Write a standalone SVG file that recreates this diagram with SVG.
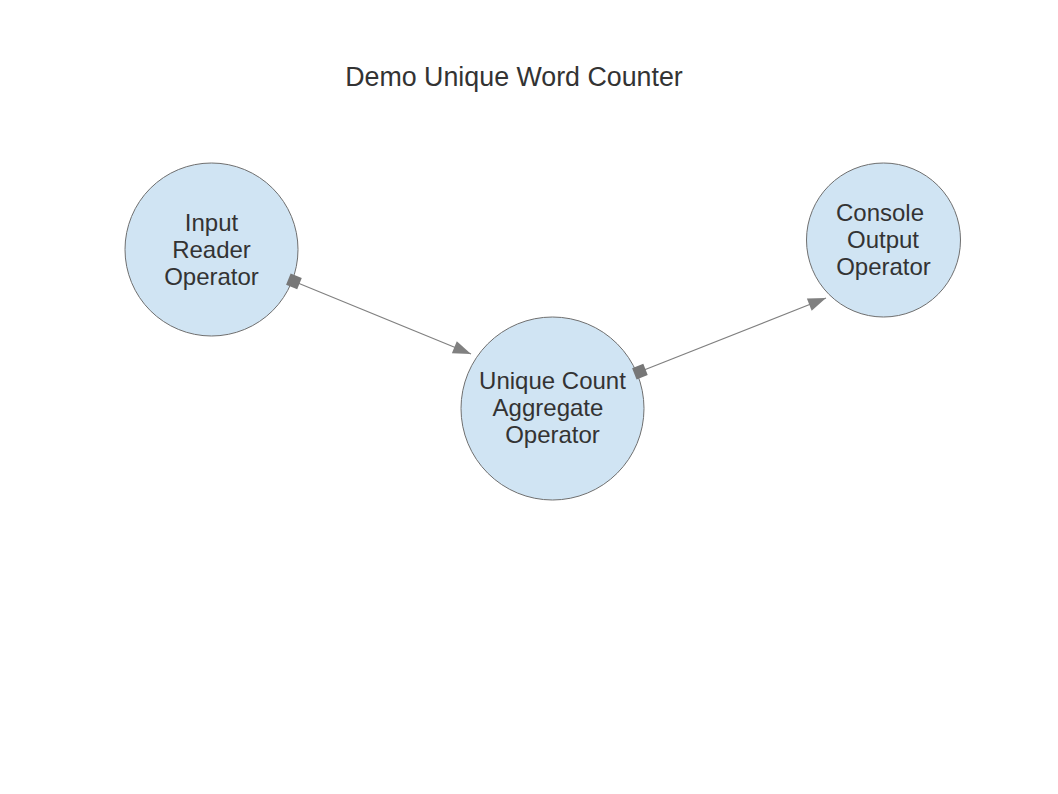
<svg xmlns="http://www.w3.org/2000/svg" width="1058" height="794" viewBox="0 0 1058 794">
<style>
.node{fill:#d0e4f3;stroke:#6f6f6f;stroke-width:1}
.lbl{font-family:"Liberation Sans",Arial,sans-serif;font-size:24px;fill:#333333;text-anchor:middle}
.title{font-family:"Liberation Sans",Arial,sans-serif;font-size:26.8px;fill:#333333;text-anchor:middle}
.conn{stroke:#808080;stroke-width:1.2;fill:none;marker-start:url(#sq);marker-end:url(#arr)}
</style>
<defs>
<marker id="arr" markerUnits="userSpaceOnUse" markerWidth="20" markerHeight="14" refX="18" refY="6.5" orient="auto" overflow="visible">
<path d="M0,0 L18,6.5 L0,13 Z" fill="#808080"/>
</marker>
<marker id="sq" markerUnits="userSpaceOnUse" markerWidth="13" markerHeight="13" refX="5" refY="6" orient="auto" overflow="visible">
<rect x="0" y="0" width="12" height="12" fill="#777777"/>
</marker>
</defs>
<rect width="1058" height="794" fill="#ffffff"/>
<text class="title" x="514" y="86">Demo Unique Word Counter</text>
<g id="input-reader">
<circle class="node" cx="211.5" cy="249.5" r="86.5"/>
<text class="lbl" x="211.5" y="231">Input</text>
<text class="lbl" x="211.5" y="258">Reader</text>
<text class="lbl" x="211.5" y="285">Operator</text>
</g>
<g id="unique-count">
<circle class="node" cx="552.5" cy="408.5" r="91.5"/>
<text class="lbl" x="552.5" y="389">Unique Count</text>
<text class="lbl" x="548" y="416">Aggregate</text>
<text class="lbl" x="552.5" y="443">Operator</text>
</g>
<g id="console-output">
<circle class="node" cx="883.5" cy="240" r="77"/>
<text class="lbl" x="880" y="221">Console</text>
<text class="lbl" x="883" y="248">Output</text>
<text class="lbl" x="883.5" y="275">Operator</text>
</g>
<g id="connectors">
<line class="conn" x1="293" y1="281" x2="471" y2="354"/>
<line class="conn" x1="639" y1="372" x2="826" y2="298"/>
</g>
</svg>
